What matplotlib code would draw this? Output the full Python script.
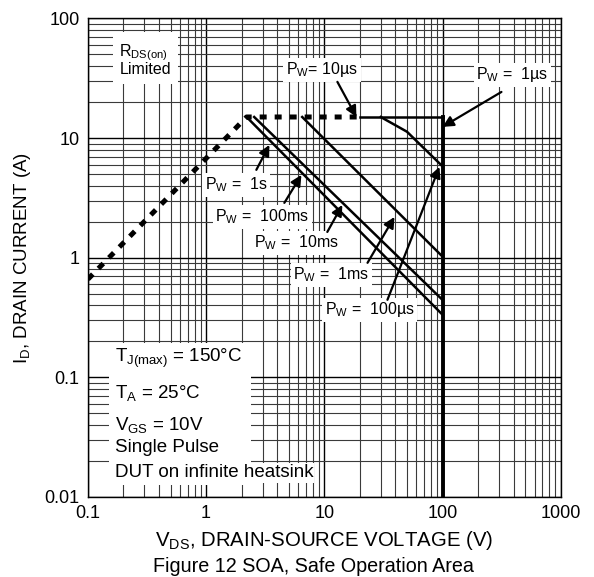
import matplotlib
matplotlib.use("Agg")
import matplotlib.pyplot as plt
from matplotlib.patches import Rectangle
from matplotlib.ticker import LogLocator, FixedLocator, FixedFormatter, NullFormatter

plt.rcParams['font.family'] = ['Liberation Sans', 'DejaVu Sans']
plt.rcParams['mathtext.default'] = 'regular'

# ---- data ----
rds_v = [0.1, 2.2, 20]          # RDS(on) limited (dashed)
rds_i = [0.66, 15, 15]
p1us_v = [20, 100, 100]          # 1 µs boundary
p1us_i = [15, 15, 0.01]
p10us_v = [30, 50, 100]          # 10 µs
p10us_i = [15, 11.3, 5.8]
p100us_v = [6.5, 100]            # diagonal 3
p100us_i = [15, 1.02]
p1ms_v = [2.55, 100]             # diagonal 2
p1ms_i = [15, 0.443]
p10ms_v = [2.2, 100]             # diagonal 1
p10ms_i = [15, 0.333]

x_ticks = [0.1, 1, 10, 100, 1000]
x_labels = ["0.1", "1", "10", "100", "1000"]
y_ticks = [0.01, 0.1, 1, 10, 100]
y_labels = ["0.01", "0.1", "1", "10", "100"]

# annotation labels: (text, text position, arrow start, arrow tip)
labels = [
    ("P$_W$= 10µs", (9.6, 37.2), (12.9, 29.5), (18.7, 15.0)),
    ("P$_W$ =  1µs", (390, 33.8), (315, 24.3), (100, 12.4)),
    ("P$_W$ =  1s", (1.80, 4.06), (2.66, 5.42), (3.43, 8.77)),
    ("P$_W$ =  100ms", (2.99, 2.19), (4.59, 2.87), (6.40, 4.92)),
    ("P$_W$ =  10ms", (5.81, 1.33), (10.6, 1.64), (14.2, 2.76)),
    ("P$_W$ =  1ms", (11.5, 0.718), (23.2, 0.905), (39.2, 2.19)),
    ("P$_W$ =  100µs", (24.1, 0.366), (34.2, 0.444), (94.1, 5.74)),
]

cond_lines = ["T$_{J(max)}$ = 150°C", "T$_A$ = 25°C", "V$_{GS}$ = 10V",
              "Single Pulse", "DUT on infinite heatsink"]
cond_y = [0.145, 0.0735, 0.040, 0.0257, 0.0159]

fig = plt.figure(figsize=(5.94, 5.77), dpi=100)
ax = fig.add_axes([0.148, 0.139, 0.796, 0.829])
ax.set_xscale('log')
ax.set_yscale('log')
ax.set_xlim(0.1, 1000)
ax.set_ylim(0.01, 100)

ax.xaxis.set_major_locator(FixedLocator(x_ticks))
ax.xaxis.set_major_formatter(FixedFormatter(x_labels))
ax.yaxis.set_major_locator(FixedLocator(y_ticks))
ax.yaxis.set_major_formatter(FixedFormatter(y_labels))
ax.xaxis.set_minor_locator(LogLocator(base=10, subs=range(2, 10), numticks=20))
ax.yaxis.set_minor_locator(LogLocator(base=10, subs=range(2, 10), numticks=20))
ax.xaxis.set_minor_formatter(NullFormatter())
ax.yaxis.set_minor_formatter(NullFormatter())
ax.tick_params(which='both', length=0, labelsize=13, pad=6)
ax.set_axisbelow(True)
ax.grid(which='major', color='black', lw=1.0, zorder=0)
ax.grid(which='minor', color='#3a3a3a', lw=0.8, zorder=0)
for s in ax.spines.values():
    s.set_linewidth(1.0)
    s.set_color('black')

# white background for condition block
ax.add_patch(Rectangle((0.15, 0.0126), 2.42 - 0.15, 0.194 - 0.0126,
                       facecolor='white', edgecolor='none', zorder=1))

# curves
ax.plot(rds_v, rds_i, color='black', lw=3.6, ls=(0, (1.4, 1.6)), zorder=3,
        solid_capstyle='butt', dash_capstyle='butt')
ax.plot(p1us_v[:2], p1us_i[:2], color='black', lw=1.8, zorder=3)
ax.plot(p1us_v[1:], p1us_i[1:], color='black', lw=2.8, zorder=3)
for v, i in [(p10us_v, p10us_i), (p100us_v, p100us_i),
             (p1ms_v, p1ms_i), (p10ms_v, p10ms_i)]:
    ax.plot(v, i, color='black', lw=1.8, zorder=3)

box = dict(facecolor='white', edgecolor='none', pad=2)
for txt, tpos, start, tip in labels:
    ax.text(tpos[0], tpos[1], txt, ha='center', va='center', fontsize=11.5,
            bbox=box, zorder=4)
    ax.annotate('', xy=tip, xytext=start,
                arrowprops=dict(arrowstyle='-|>', color='black', lw=1.6,
                                mutation_scale=16, shrinkA=0, shrinkB=0),
                zorder=5)

ax.text(0.185, 45.1, "R$_{DS(on)}$\nLimited", ha='left', va='center',
        fontsize=11.5, linespacing=0.9, zorder=4,
        bbox=dict(facecolor='white', edgecolor='none', pad=5))

for t, y in zip(cond_lines, cond_y):
    ax.text(0.168, y, t, ha='left', va='center', fontsize=13.5, zorder=4,
            bbox=dict(facecolor='white', edgecolor='none', pad=1) if t.startswith('DUT') else None)

ax.set_xlabel("V$_{DS}$, DRAIN-SOURCE VOLTAGE (V)", fontsize=14.7, labelpad=5)
ax.set_ylabel("I$_D$, DRAIN CURRENT (A)", fontsize=13.5, labelpad=8)
fig.text(0.528, 0.009, "Figure 12 SOA, Safe Operation Area", ha='center',
         va='baseline', fontsize=14.2)

fig.savefig("out.png", dpi=100)
